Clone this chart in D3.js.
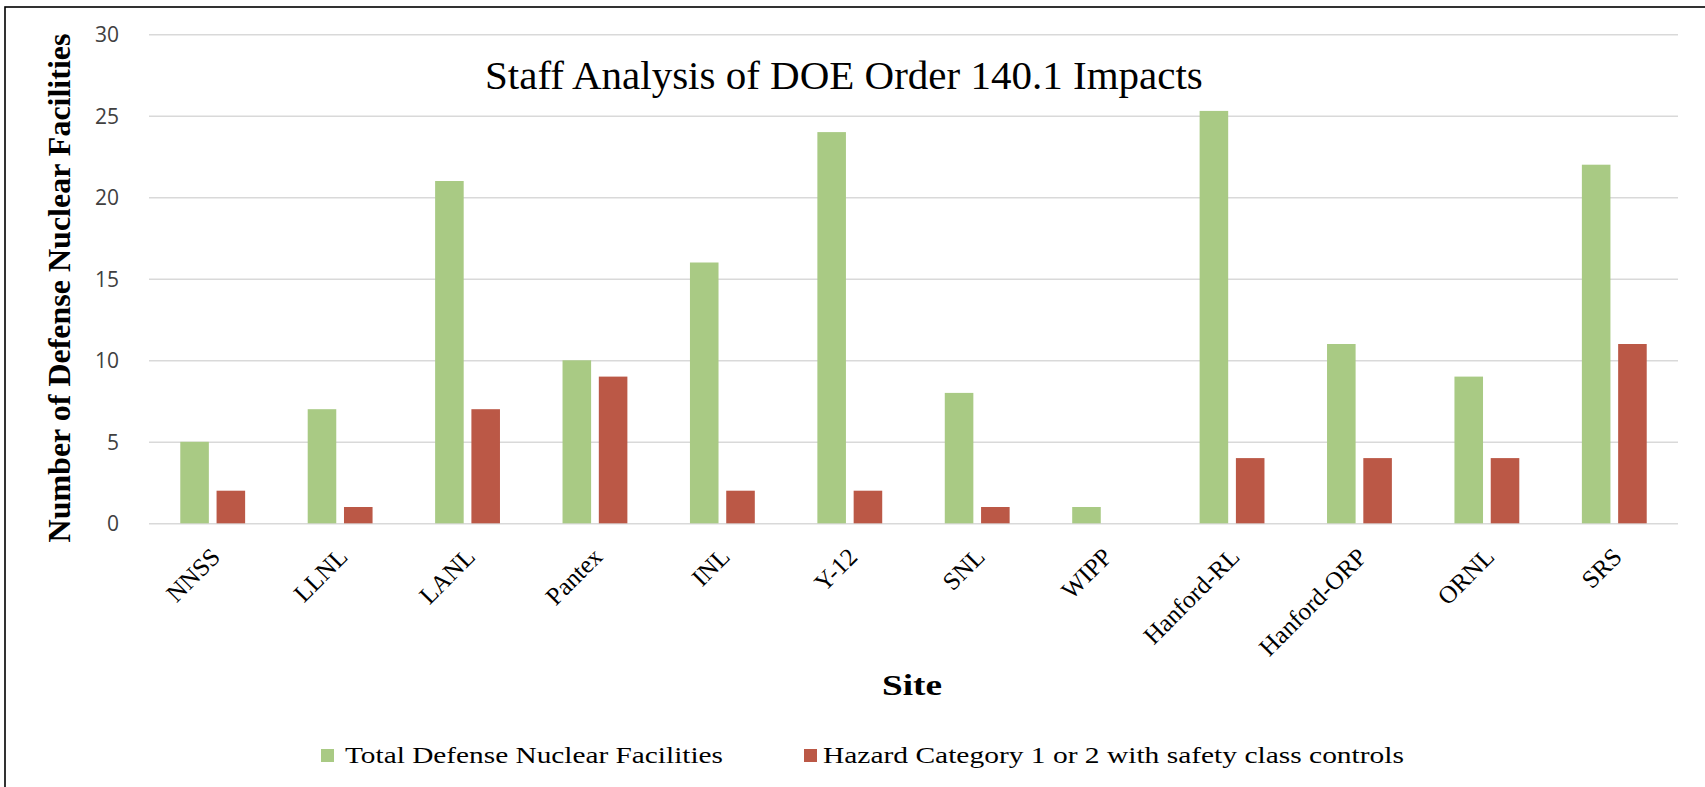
<!DOCTYPE html>
<html>
<head>
<meta charset="utf-8">
<script src="https://cdn.jsdelivr.net/npm/d3@7"></script>
<style>
  html, body { margin: 0; padding: 0; background: #fff; }
  svg { display: block; }
</style>
</head>
<body>
<svg id="chart" width="1705" height="787"></svg>
<script>
const sites = ["NNSS", "LLNL", "LANL", "Pantex", "INL", "Y-12", "SNL", "WIPP", "Hanford-RL", "Hanford-ORP", "ORNL", "SRS"];
const totalFacilities = [5, 7, 21, 10, 16, 24, 8, 1, 25.3, 11, 9, 22];
const hazardCat12 = [2, 1, 7, 9, 2, 2, 1, 0, 4, 4, 4, 11];
const yTicks = [0, 5, 10, 15, 20, 25, 30];
const seriesNames = ["Total Defense Nuclear Facilities", "Hazard Category 1 or 2 with safety class controls"];
const seriesColors = ["#a9ca84", "#bb5846"];
const chartTitle = "Staff Analysis of DOE Order 140.1 Impacts";
const yTitle = "Number of Defense Nuclear Facilities";
const xTitle = "Site";

const svg = d3.select("#chart");
const W = 1705, H = 787;
const plot = { left: 149, right: 1678, top: 34.3, bottom: 523.3 };
const serif = "'Liberation Serif', 'Times New Roman', serif";

// frame (cropped: only top and left edges visible)
svg.append("rect").attr("x", 5).attr("y", 7).attr("width", W + 20).attr("height", H + 20)
  .attr("fill", "#fff").attr("stroke", "#000").attr("stroke-width", 1.6);

const x0 = d3.scaleBand().domain(sites).range([plot.left, plot.right])
  .paddingInner(2.19 / 4.46).paddingOuter(2.19 / 4.46 / 2);
const x1 = d3.scaleBand().domain([0, 1]).range([0, x0.bandwidth()])
  .paddingInner(0.27 / 1.27).paddingOuter(0);
const y = d3.scaleLinear().domain([0, 30]).range([plot.bottom, plot.top]);

// gridlines + y tick labels
const yAxis = d3.axisLeft(y).tickValues(yTicks).tickSize(-(plot.right - plot.left)).tickPadding(30);
const gy = svg.append("g").attr("transform", `translate(${plot.left},0)`).call(yAxis);
gy.select(".domain").remove();
gy.selectAll(".tick line").attr("stroke", "#d9d9d9").attr("stroke-width", 1.4);
gy.selectAll(".tick text").attr("font-family", "'Open Sans', sans-serif").attr("font-size", 21)
  .attr("fill", "#404040").attr("dy", "0.36em");

// bars
const data = sites.map((s, i) => ({ site: s, vals: [totalFacilities[i], hazardCat12[i]] }));
const groups = svg.append("g").selectAll("g").data(data).join("g")
  .attr("transform", d => `translate(${x0(d.site)},0)`);
groups.selectAll("rect").data(d => d.vals.map((v, k) => ({ v, k }))).join("rect")
  .attr("x", d => x1(d.k)).attr("width", x1.bandwidth())
  .attr("y", d => y(d.v)).attr("height", d => y(0) - y(d.v))
  .attr("fill", d => seriesColors[d.k]);

// x axis labels (rotated -45°)
const xAxis = d3.axisBottom(x0).tickSize(0).tickPadding(0);
const gx = svg.append("g").attr("transform", `translate(0,${plot.bottom})`).call(xAxis);
gx.select(".domain").remove();
gx.selectAll(".tick text")
  .attr("font-family", serif).attr("font-size", 25)
  .attr("fill", "#000").attr("text-anchor", "end").attr("dy", 0).attr("y", 0)
  .attr("transform", "translate(9,35) rotate(-45)");

// title
svg.append("text").attr("x", 485).attr("y", 89)
  .attr("font-family", serif).attr("font-size", 41)
  .attr("fill", "#000").text(chartTitle);

// y title
svg.append("text").attr("transform", `translate(70,288) rotate(-90)`).attr("text-anchor", "middle")
  .attr("font-family", serif).attr("font-size", 32)
  .attr("font-weight", "bold").attr("fill", "#000").text(yTitle);

// x title
svg.append("text").attr("x", 882).attr("y", 695)
  .attr("font-family", serif).attr("font-size", 30)
  .attr("textLength", 60).attr("lengthAdjust", "spacingAndGlyphs")
  .attr("font-weight", "bold").attr("fill", "#000").text(xTitle);

// legend
const legendX = [321, 804];
const legendLen = [378, 581];
const lg = svg.append("g").selectAll("g").data(seriesNames).join("g")
  .attr("transform", (d, i) => `translate(${legendX[i]},749)`);
lg.append("rect").attr("width", 13).attr("height", 13).attr("fill", (d, i) => seriesColors[i]);
lg.append("text").attr("x", (d, i) => i === 0 ? 24 : 19).attr("y", 14)
  .attr("font-family", serif).attr("font-size", 23)
  .attr("textLength", (d, i) => legendLen[i]).attr("lengthAdjust", "spacingAndGlyphs")
  .attr("fill", "#000").text(d => d);
</script>
</body>
</html>
